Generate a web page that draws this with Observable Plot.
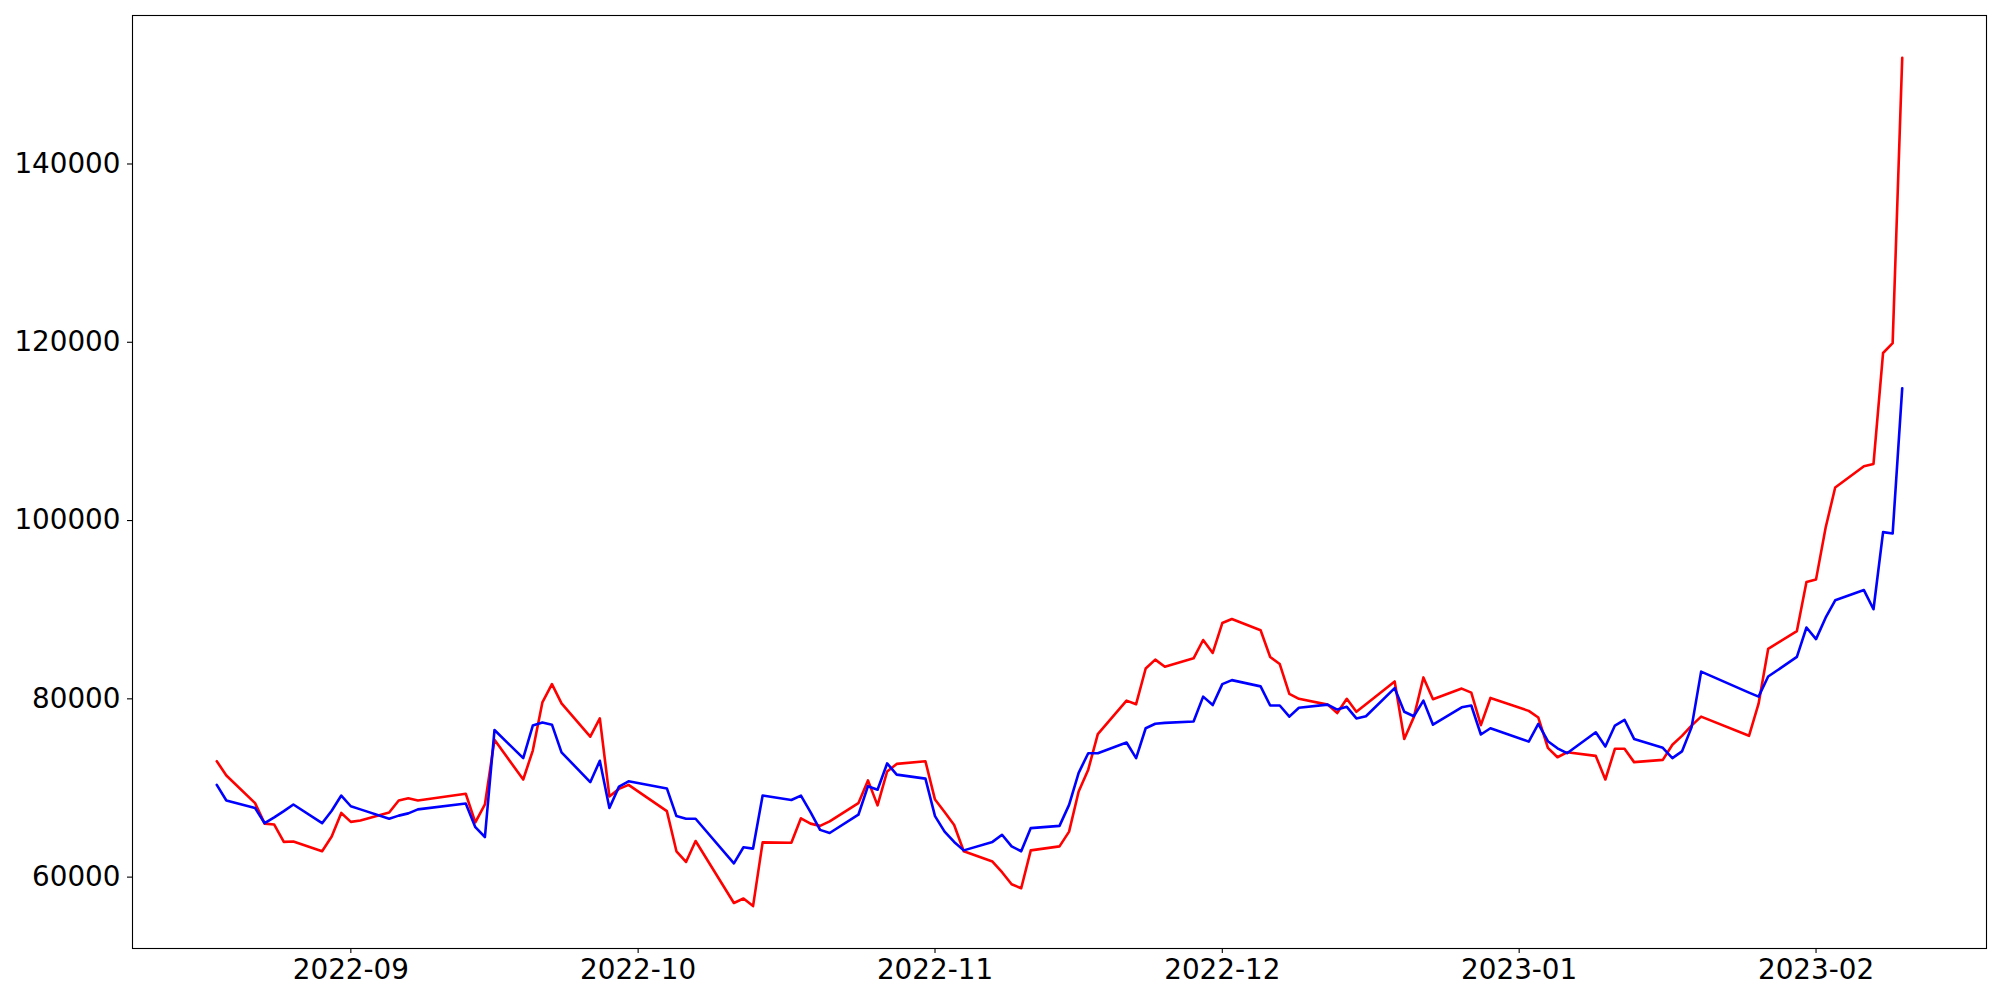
<!DOCTYPE html>
<html>
<head>
<meta charset="utf-8">
<script src="https://cdn.jsdelivr.net/npm/d3@7"></script>
<script src="https://cdn.jsdelivr.net/npm/@observablehq/plot@0.6"></script>
<style>
  html, body { margin: 0; padding: 0; background: #fff; }
  #chart { width: 2000px; height: 1000px; }
</style>
</head>
<body>
<div id="chart"></div>
<script>
// Trading dates (x axis)
const dates = [
  "2022-08-18","2022-08-19","2022-08-22","2022-08-23","2022-08-24","2022-08-25","2022-08-26","2022-08-29","2022-08-30","2022-08-31",
  "2022-09-01","2022-09-02","2022-09-05","2022-09-06","2022-09-07","2022-09-08","2022-09-13","2022-09-14","2022-09-15","2022-09-16",
  "2022-09-19","2022-09-20","2022-09-21","2022-09-22","2022-09-23","2022-09-26","2022-09-27","2022-09-28","2022-09-29","2022-09-30",
  "2022-10-04","2022-10-05","2022-10-06","2022-10-07","2022-10-11","2022-10-12","2022-10-13","2022-10-14","2022-10-17","2022-10-18",
  "2022-10-19","2022-10-20","2022-10-21","2022-10-24","2022-10-25","2022-10-26","2022-10-27","2022-10-28","2022-10-31",
  "2022-11-01","2022-11-02","2022-11-03","2022-11-04","2022-11-07","2022-11-08","2022-11-09","2022-11-10","2022-11-11","2022-11-14",
  "2022-11-15","2022-11-16","2022-11-17","2022-11-18","2022-11-21","2022-11-22","2022-11-23","2022-11-24","2022-11-25","2022-11-28",
  "2022-11-29","2022-11-30",
  "2022-12-01","2022-12-02","2022-12-05","2022-12-06","2022-12-07","2022-12-08","2022-12-09","2022-12-12","2022-12-13","2022-12-14",
  "2022-12-15","2022-12-16","2022-12-19","2022-12-20","2022-12-21","2022-12-22","2022-12-23","2022-12-26","2022-12-27","2022-12-28",
  "2022-12-29",
  "2023-01-02","2023-01-03","2023-01-04","2023-01-05","2023-01-06","2023-01-09","2023-01-10","2023-01-11","2023-01-12","2023-01-13",
  "2023-01-16","2023-01-17","2023-01-18","2023-01-19","2023-01-20","2023-01-25","2023-01-26","2023-01-27","2023-01-30","2023-01-31",
  "2023-02-01","2023-02-02","2023-02-03","2023-02-06","2023-02-07","2023-02-08","2023-02-09","2023-02-10"
];

// Red series
const redValues = [
  73000,71400,68300,66000,65900,63950,64000,62900,64550,67200,
  66200,66350,67250,68600,68850,68600,69350,66150,68150,75400,
  70950,74200,79600,81650,79500,75750,77800,69050,69900,70350,
  67400,62900,61700,64050,57100,57600,56750,63900,63850,66600,
  66000,65750,66250,68300,70850,68050,71850,72700,73000,
  68700,67300,65850,62900,61750,60550,59200,58750,63000,63450,
  65100,69600,72050,76050,79800,79400,83400,84400,83600,84550,
  86600,85150,
  88500,88950,87700,84700,83900,80550,80000,79350,78400,80000,
  78550,79400,81950,75500,77950,82400,79950,81150,80700,77050,
  80100,
  78650,77900,74500,73450,74000,73600,70950,74400,74400,72900,
  73150,74850,75850,77000,78000,75850,79450,85600,87600,93100,
  93400,99200,103700,106100,106350,118800,119900,151900
];

// Blue series
const blueValues = [
  70350,68600,67750,66050,66700,67400,68150,66050,67450,69150,
  67950,67600,66550,66900,67150,67600,68250,65600,64500,76500,
  73350,77000,77350,77100,74000,70650,73050,67750,70150,70750,
  69950,66850,66550,66550,61550,63350,63200,69150,68650,69150,
  67300,65300,64950,67000,70200,69800,72750,71500,71050,
  66850,65100,63950,63000,63950,64750,63450,62900,65500,65750,
  68100,71700,73900,73900,75100,73350,76700,77200,77300,77450,
  80250,79300,
  81650,82100,81400,79250,79250,78000,79000,79350,78800,79100,
  77800,78050,81200,78550,78050,79800,77100,79050,79250,76000,
  76700,
  75200,77200,75250,74450,73900,76250,74650,77000,77650,75500,
  74500,73350,74100,76800,83050,80700,80250,82500,84700,88000,
  86700,89100,91050,92200,90050,98700,98550,114850
];

const yTicks = [60000, 80000, 100000, 120000, 140000];

const parsed = dates.map(d => new Date(d + "T00:00:00Z"));
const redData = parsed.map((d, i) => ({date: d, value: redValues[i]}));
const blueData = parsed.map((d, i) => ({date: d, value: blueValues[i]}));

// matplotlib-like 5% margins
const [x0, x1] = d3.extent(parsed);
const xPad = (x1 - x0) * 0.05;
const allVals = redValues.concat(blueValues);
const [y0, y1] = d3.extent(allVals);
const yPad = (y1 - y0) * 0.05;

const chart = Plot.plot({
  width: 2000,
  height: 1000,
  marginLeft: 132,
  marginRight: 14,
  marginTop: 15,
  marginBottom: 52,
  style: {fontFamily: "'DejaVu Sans', sans-serif", fontSize: "27.8px", background: "#fff", color: "#000"},
  x: {type: "utc", domain: [new Date(+x0 - xPad), new Date(+x1 + xPad)]},
  y: {domain: [y0 - yPad, y1 + yPad]},
  marks: [
    Plot.line(redData, {x: "date", y: "value", stroke: "#ff0000", strokeWidth: 2.6, strokeLinejoin: "round"}),
    Plot.line(blueData, {x: "date", y: "value", stroke: "#0000ff", strokeWidth: 2.6, strokeLinejoin: "round"}),
    Plot.axisX({ticks: d3.utcMonth.every(1), tickFormat: d3.utcFormat("%Y-%m"), tickSize: 5, tickPadding: 6, label: null, stroke: "#000", strokeWidth: 1.1, fill: "#000"}),
    Plot.axisY({ticks: yTicks, tickFormat: d3.format("d"), tickSize: 5, tickPadding: 7, label: null, stroke: "#000", strokeWidth: 1.1, fill: "#000"}),
    Plot.frame({stroke: "#000", strokeWidth: 1.1})
  ]
});

document.getElementById("chart").appendChild(chart);
</script>
</body>
</html>
